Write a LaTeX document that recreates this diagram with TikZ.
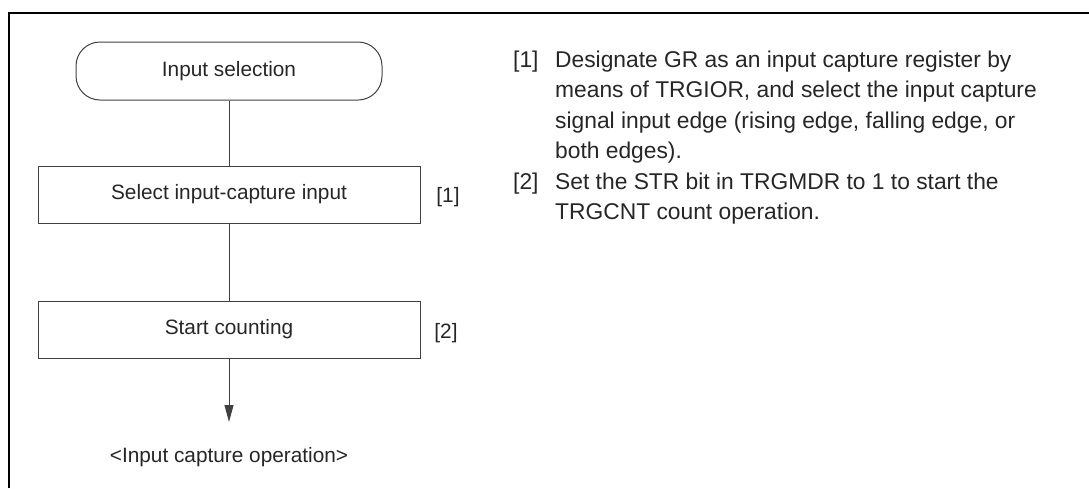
\documentclass[tikz,border=0pt]{standalone}
\usepackage{fontspec}
\setmainfont{Liberation Sans}
\usetikzlibrary{arrows.meta}
\begin{document}
\begin{tikzpicture}[x=1pt,y=-1pt,
  box/.style={draw=black!75, line width=1pt, minimum width=382pt, minimum height=57pt, inner sep=0pt, font=\fontsize{20.8}{25}\selectfont, text=black!85},
  term/.style={box, rounded corners=24pt, minimum width=306pt, minimum height=58pt},
  lbl/.style={font=\fontsize{20.8}{25}\selectfont, text=black!85, inner sep=0pt},
  note/.style={font=\fontsize{22.8}{30}\selectfont, text=black!85, inner sep=0pt, anchor=base west},
  conn/.style={draw=black!75, line width=1pt}]
\useasboundingbox (0,0) rectangle (1089,488);
\draw[line width=2.5pt] (9,488) -- (9,13) -- (1089,13);
\node[term] (t) at (229,71) {Input selection};
\node[box] (b1) at (229,194.5) {Select input-capture input};
\node[box] (b2) at (229,329.5) {Start counting};
\node[lbl] (l1) at (448,197) {[1]};
\node[lbl] (l2) at (446,333) {[2]};
\node[lbl] (out) at (229,457) {<Input capture operation>};
\coordinate (tip) at (229,422);
\draw[conn] (t) -- (b1);
\draw[conn] (b1) -- (b2);
\draw[conn,-{Triangle[length=17pt,width=9pt]}] (b2) -- (tip);
\node[note] (n1) at (513,67) {[1]};
\node[note] (n1a) at (555,67) {Designate GR as an input capture register by};
\node[note] (n1b) at (555,97.5) {means of TRGIOR, and select the input capture};
\node[note] (n1c) at (555,128) {signal input edge (rising edge, falling edge, or};
\node[note] (n1d) at (555,158.5) {both edges).};
\node[note] (n2) at (513,189) {[2]};
\node[note] (n2a) at (555,189) {Set the STR bit in TRGMDR to 1 to start the};
\node[note] (n2b) at (555,219.5) {TRGCNT count operation.};
\end{tikzpicture}
\end{document}
